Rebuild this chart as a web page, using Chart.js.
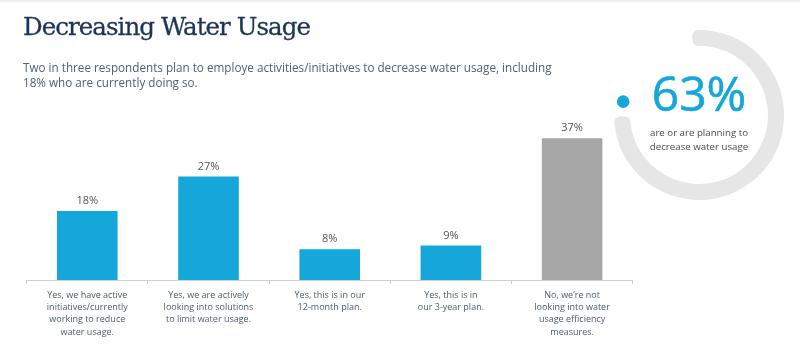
<!DOCTYPE html>
<html>
<head>
<meta charset="utf-8">
<script src="https://cdn.jsdelivr.net/npm/chart.js@4"></script>
<style>
    body { margin: 0; background: #fff; width: 800px; height: 348px; overflow: hidden; position: relative; font-family: "Open Sans", sans-serif; }
    .topline { position: absolute; left: 0; top: 0; width: 800px; height: 3px; background: linear-gradient(#e9e9e9, #fff); }
    #bars { position: absolute; left: 0; top: 0; }
    #ring { position: absolute; left: 609px; top: 25px; }
    h1 { position: absolute; left: 23px; top: 14px; margin: 0; font: 400 24.5px/25px "DejaVu Serif", serif; letter-spacing: -0.95px; -webkit-text-stroke: 0.3px #1c3557; color: #1c3557; white-space: nowrap; }
    .sub { position: absolute; left: 23px; top: 59.5px; margin: 0; font-size: 11.7px; line-height: 15.2px; color: #506078; white-space: nowrap; }
    .big { position: absolute; left: 609px; top: 69px; width: 180px; text-align: center; font-size: 48px; line-height: 48px; font-weight: 500; -webkit-text-stroke: 0.6px #15a6da; color: #15a6da; }
    .note { position: absolute; left: 609px; top: 126px; width: 180px; text-align: center; font-size: 9.7px; line-height: 13.5px; color: #4a4a4a; }
</style>
</head>
<body>
<div class="topline"></div>
<canvas id="bars" width="800" height="348"></canvas>
<canvas id="ring" width="180" height="180"></canvas>
<h1>Decreasing Water Usage</h1>
<p class="sub">Two in three respondents plan to employe activities/initiatives to decrease water usage, including<br>18% who are currently doing so.</p>
<div class="big" id="bigValue"></div>
<div class="note">are or are planning to<br>decrease water usage</div>
<script>
const categories = [
    ["Yes, we have active", "initiatives/currently", "working to reduce", "water usage."],
    ["Yes, we are actively", "looking into solutions", "to limit water usage."],
    ["Yes, this is in our", "12-month plan."],
    ["Yes, this is in", "our 3-year plan."],
    ["No, we\u2019re not", "looking into water", "usage efficiency", "measures."]
];
const shares = [18, 27, 8, 9, 37];
const totalPlanning = 63;

// ring track: grey arc, gap, dot, gap (degrees)
const ringParts = [274, 6, 10, 70];

const blue = '#15a6da';
const grey = '#a6a6a6';

document.getElementById("bigValue").textContent = totalPlanning + "%";

const valueLabels = {
    id: "valueLabels",
    afterDatasetsDraw(chart) {
        const ctx = chart.ctx;
        const meta = chart.getDatasetMeta(0);
        ctx.save();
        ctx.font = '11px "Open Sans"';
        ctx.fillStyle = '#555555';
        ctx.textAlign = 'center';
        ctx.textBaseline = 'alphabetic';
        meta.data.forEach((bar, i) => {
            ctx.fillText(shares[i] + '%', bar.x, bar.y - 7);
        });
        ctx.restore();
    }
};

// round marker in the middle of the third ring segment
const ringDot = {
    id: "ringDot",
    afterDatasetsDraw(chart) {
        const arc = chart.getDatasetMeta(0).data[2];
        const mid = (arc.startAngle + arc.endAngle) / 2;
        const r = (arc.innerRadius + arc.outerRadius) / 2;
        const ctx = chart.ctx;
        ctx.save();
        ctx.fillStyle = blue;
        ctx.beginPath();
        ctx.arc(arc.x + Math.cos(mid) * r, arc.y + Math.sin(mid) * r, 6.3, 0, Math.PI * 2);
        ctx.fill();
        ctx.restore();
    }
};

const barChart = new Chart(document.getElementById("bars"), {
    type: "bar",
    plugins: [valueLabels],
    options: {
        responsive: false,
        animation: false,
        events: [],
        layout: {
            padding: { left: 26.7, right: 167.3, top: 126.8, bottom: 0 }
        },
        plugins: {
            legend: { display: false },
            tooltip: { enabled: false }
        },
        scales: {
            x: {
                grid: { offset: true, drawOnChartArea: false, drawTicks: true, tickLength: 4, color: '#cfcfcf' },
                border: { color: '#cfcfcf' },
                ticks: {
                    color: '#4a5b70',
                    font: { family: "Open Sans", size: 9, lineHeight: 1.37 },
                    padding: 5,
                    maxRotation: 0,
                    autoSkip: false
                },
                afterFit(scale) {
                    scale.height = 68;
                }
            },
            y: {
                display: false,
                min: 0,
                max: 40
            }
        }
    },
    data: {
        labels: categories,
        datasets: [{
            data: shares,
            backgroundColor: [blue, blue, blue, blue, grey],
            categoryPercentage: 1,
            barPercentage: 0.5
        }]
    }
});

const ringChart = new Chart(document.getElementById("ring"), {
    type: "doughnut",
    plugins: [ringDot],
    options: {
        responsive: false,
        animation: false,
        events: [],
        rotation: -5,
        radius: 85,
        cutout: 73,
        plugins: {
            legend: { display: false },
            tooltip: { enabled: false }
        }
    },
    data: {
        datasets: [{
            data: ringParts,
            backgroundColor: ['#e6e6e6', 'rgba(0,0,0,0)', 'rgba(0,0,0,0)', 'rgba(0,0,0,0)'],
            borderWidth: 0,
            borderRadius: 6
        }]
    }
});
</script>
</body>
</html>
